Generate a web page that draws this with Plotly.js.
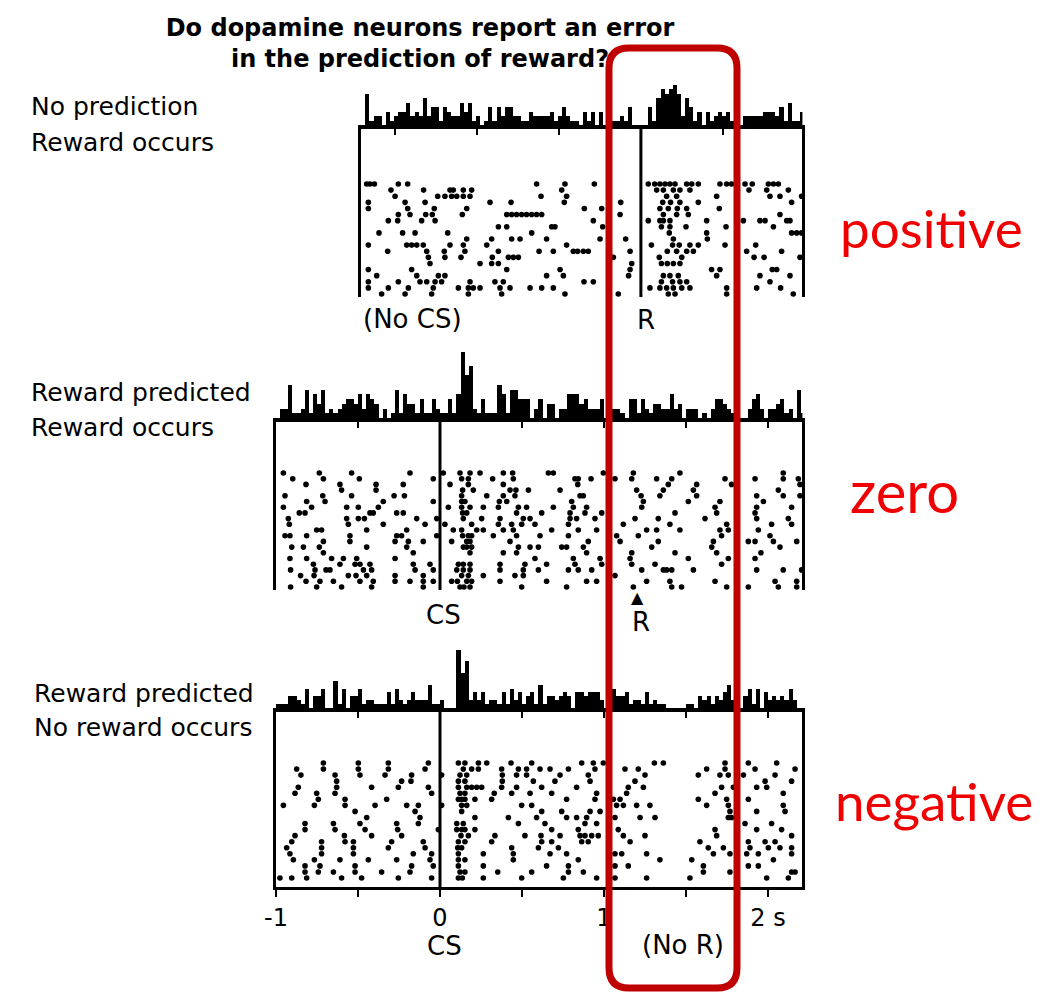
<!DOCTYPE html>
<html><head><meta charset="utf-8">
<script src="https://cdn.plot.ly/plotly-3.0.1.min.js"></script>
<style>html,body{margin:0;padding:0;background:#fff;}#chart{width:1055px;height:993px;}</style>
</head><body><div id="chart"></div>
<script>
// ---------------- DATA (seconds relative to CS; one array per trial row) ----------------
const CS_TIME = 0;
const REWARD_TIME_P1 = 1.225;   // reward line, panel 1
const REWARD_TIME_P2 = 1.205;   // reward arrow, panel 2
const REWARD_TIME_P3 = 1.22;    // omitted reward, panel 3
const P1_START = -0.48, P23_START = -1.0, END_T = 2.21;
const BIN_SIZE = 0.025;

const rasterNoPrediction = [
 [-0.447,-0.427,-0.40,-0.254,-0.197,0.589,0.762,0.941,1.270,1.309,1.341,1.372,1.402,1.433,1.504,1.535,1.575,1.707,1.748,1.778,1.860,1.904,2.002,2.033,2.063],
 [-0.299,-0.10,0.061,0.081,0.142,0.193,0.742,1.321,1.362,1.423,1.463,1.524,1.884,1.992,2.124],
 [-0.274,-0.014,0.030,0.071,0.102,0.142,0.183,0.616,0.772,1.382,1.443,1.687,2.012,2.073,2.205],
 [-0.437,-0.213,-0.091,0.305,0.433,0.758,1.102,1.358,1.406,1.463,1.575,2.144],
 [-0.437,-0.197,-0.035,0.163,0.880,0.986,1.341,1.392,1.447,1.504,1.703],
 [-0.254,-0.183,-0.087,-0.047,0.136,0.407,0.437,0.467,0.498,0.528,0.559,0.589,0.620,1.098,1.362,1.443,1.514,2.073],
 [-0.315,-0.258,-0.112,-0.030,0.935,1.270,1.341,1.362,1.402,1.626,1.850,1.951,1.982,2.114,2.134],
 [0.356,0.407,0.681,0.701,0.992,1.350,1.402,1.500,1.744,2.033],
 [-0.372,-0.228,-0.152,0.047,0.559,1.398,1.626,2.144,2.175,2.205],
 [0.163,0.315,0.437,0.488,0.650,0.976,1.132,1.423,1.630],
 [-0.437,-0.203,-0.173,-0.142,-0.102,0.061,0.142,0.285,0.772,1.289,1.418,1.459,1.524,1.575,1.738,1.925],
 [-0.319,-0.081,0.026,0.152,0.356,0.604,0.691,0.813,0.839,0.874,0.904,1.159,1.386,1.443,1.504,1.545,1.870,2.083],
 [-0.071,0.030,0.128,0.319,0.417,0.447,0.478,1.057,1.337,1.474,1.915,1.976,2.195],
 [-0.061,0.244,0.315,0.356,1.169,1.350,1.386,1.423,1.463],
 [-0.437,-0.173,0.407,0.732,1.159,1.656,1.707,2.026,2.053],
 [-0.386,-0.142,-0.010,0.030,0.650,0.752,1.150,1.362,1.402,1.453,1.687,1.951,2.134],
 [-0.437,-0.254,-0.122,-0.081,-0.030,0.010,0.183,0.335,0.386,0.878,0.935,1.350,1.418,1.463,1.504,2.012],
 [-0.437,-0.315,-0.193,-0.041,0.112,0.173,0.203,0.244,0.366,0.427,0.549,0.620,0.691,1.280,1.341,1.382,1.423,1.474,1.524,1.748,1.931,2.077],
 [-0.356,-0.213,-0.051,0.173,0.376,0.762,1.087,1.392,1.433,1.748,2.154]
];

const rasterRewardPredicted = [
 [-0.955,-0.736,-0.539,-0.183,0.020,0.122,0.183,0.244,0.386,0.443,0.661,0.691,0.996,1.179,1.463,2.093],
 [-0.898,-0.711,-0.492,-0.041,0.132,0.173,0.321,0.447,0.823,0.843,0.921,1.067,1.169,1.321,1.413,1.738,1.921,2.093,2.185],
 [-0.817,-0.610,-0.390,-0.224,0.061,0.173,0.386,0.840,1.392,1.565,1.778,2.195],
 [-0.600,-0.390,0.138,0.203,0.427,0.463,0.539,0.732,1.199,1.362,1.545,2.063],
 [-0.945,-0.715,-0.539,-0.280,-0.217,0.132,0.285,0.386,0.457,0.854,0.874,1.226,1.341,1.565,1.931,2.093,2.195],
 [-0.813,-0.701,-0.346,-0.041,0.132,0.152,0.362,0.407,0.803,1.240,1.514,1.707,1.972],
 [-0.955,-0.783,-0.569,-0.498,-0.376,0.051,0.132,0.183,0.264,0.356,0.478,0.528,0.691,0.813,0.894,1.230,1.677,1.931,2.144],
 [-0.858,-0.823,-0.427,-0.407,-0.264,-0.224,0.138,0.163,0.467,0.620,0.793,0.884,0.986,1.433,1.687,1.921],
 [-0.925,-0.569,-0.498,-0.461,-0.142,-0.020,0.142,0.254,0.366,0.508,0.549,0.793,0.833,0.945,1.189,1.331,1.616,1.931,2.124],
 [-0.919,-0.559,-0.346,-0.091,0.030,0.193,0.356,0.437,0.498,0.579,0.783,1.118,1.402,1.748,2.022,2.144],
 [-0.752,-0.722,-0.447,-0.203,0.081,0.132,0.224,0.264,0.386,0.447,0.681,0.843,0.955,1.260,1.321,1.463,1.707,1.758,1.941],
 [-0.945,-0.915,-0.813,-0.549,-0.264,-0.234,-0.020,0.138,0.173,0.193,0.325,0.467,0.610,0.783,1.077,1.209,1.717,2.012],
 [-0.711,-0.549,-0.274,-0.193,-0.102,0.071,0.163,0.183,0.427,0.904,1.098,1.331,1.667,1.880,1.921,2.033,2.175],
 [-0.904,-0.833,-0.736,-0.447,-0.203,0.142,0.163,0.193,0.478,0.549,0.600,0.742,0.772,0.874,1.291,1.657,2.073],
 [-0.711,-0.163,0.183,0.386,0.467,0.894,1.169,1.433,1.687,1.957],
 [-0.915,-0.813,-0.661,-0.589,-0.508,-0.274,0.579,0.813,0.976,1.159,1.514,1.758,1.921,2.226],
 [-0.772,-0.610,-0.518,-0.488,-0.427,-0.163,-0.061,0.112,0.142,0.183,0.366,0.518,0.650,0.823,0.986,1.169,1.311,1.717],
 [-0.911,-0.762,-0.695,-0.671,-0.467,-0.417,-0.152,-0.041,0.102,0.142,0.183,0.366,0.508,0.600,0.783,0.843,0.925,1.230,1.362,1.382,1.413,1.545,1.931,2.093,2.205],
 [-0.850,-0.768,-0.559,-0.512,-0.447,-0.274,-0.102,0.132,0.173,0.264,0.457,0.508,1.067],
 [-0.817,-0.732,-0.650,-0.488,-0.407,-0.274,-0.183,-0.102,-0.041,0.071,0.106,0.163,0.193,0.366,0.650,0.894,0.955,1.260,1.402,1.677,2.043,2.175],
 [-0.911,-0.752,-0.600,-0.417,-0.102,0.122,0.146,0.183,0.498,0.772,1.179,1.413,1.473,1.748,1.880,2.063,2.175]
];

const rasterRewardOmitted = [
 [-0.711,-0.498,-0.315,-0.071,0.112,0.152,0.234,0.285,0.433,0.559,0.864,0.935,0.996,1.307,1.362,1.738,1.880,2.053],
 [-0.874,-0.711,-0.498,-0.315,-0.091,0.142,0.193,0.234,0.376,0.478,0.528,0.610,0.671,0.783,0.945,1.128,1.209,1.626,1.738,1.921,2.165],
 [-0.848,-0.640,-0.488,-0.335,-0.173,0.010,0.122,0.163,0.380,0.467,0.528,0.732,0.904,1.250,1.575,1.707,1.758,1.850,2.043],
 [-0.630,-0.234,-0.177,0.112,0.152,0.380,0.569,0.701,0.915,1.189,1.982,2.144],
 [-0.864,-0.630,-0.417,-0.254,-0.071,0.112,0.163,0.193,0.224,0.254,0.376,0.467,0.620,0.833,1.148,1.240,1.717,1.789,1.931,1.992],
 [-0.884,-0.752,-0.640,-0.051,0.122,0.152,0.331,0.437,0.549,0.681,0.955,1.138,1.677,2.093],
 [-0.742,-0.579,-0.325,0.112,0.132,0.152,0.213,0.315,0.772,0.945,1.057,1.098,1.575,1.748,1.880],
 [-0.955,-0.766,-0.579,-0.396,-0.203,-0.132,0.010,0.132,0.163,0.498,0.559,1.077,1.118,1.199,1.280,1.626,1.758,2.093],
 [-0.518,-0.152,0.132,0.620,0.742,0.915,0.976,1.768,1.931,2.104],
 [-0.447,-0.122,0.213,0.417,0.589,0.772,0.833,0.894,1.067,1.220,1.311,1.758,1.778],
 [-0.823,-0.650,-0.488,-0.264,-0.132,0.102,0.142,0.478,0.640,0.884,0.955,1.860,2.022],
 [-0.823,-0.640,-0.457,-0.258,-0.010,0.102,0.132,0.152,0.213,0.681,0.843,1.087,1.677,1.931,2.083],
 [-0.884,-0.583,-0.417,-0.234,0.128,0.173,0.335,0.518,0.616,0.732,0.854,0.884,0.925,0.965,1.118,1.250,1.687,2.144],
 [-0.904,-0.722,-0.579,-0.528,-0.295,-0.102,0.112,0.152,0.315,0.620,0.681,0.864,0.904,1.159,1.585,1.880,1.982,2.043],
 [-0.935,-0.722,-0.528,-0.315,-0.091,0.108,0.132,0.437,0.600,0.722,1.636,1.728,1.890,2.002,2.073,2.144],
 [-0.915,-0.722,-0.528,-0.163,-0.051,0.112,0.264,0.447,0.671,0.772,1.067,1.108,1.260,1.667,1.768,1.870,1.941,2.144],
 [-0.894,-0.766,-0.610,-0.437,-0.264,-0.061,0.112,0.152,0.447,0.843,1.341,1.535,2.033],
 [-0.823,-0.732,-0.518,-0.173,-0.041,0.112,0.264,0.650,0.783,1.067,1.148,1.606,1.880,1.941],
 [-0.823,-0.742,-0.650,-0.518,-0.356,-0.183,0.122,0.152,0.352,0.559,0.783,0.874,1.606,1.768,2.144,2.165],
 [-0.976,-0.904,-0.813,-0.600,-0.478,-0.254,-0.051,0.112,0.136,0.264,0.498,0.752,0.955,1.067,1.260,1.524,1.992,2.124]
];

const axisTickVals = [-1, -0.5, 0, 0.5, 1, 1.5, 2];
const axisTickText = ['-1', '', '0', '', '1', '', '2 s'];
const panelLabels = [['No prediction', 'Reward occurs'], ['Reward predicted', 'Reward occurs'], ['Reward predicted', 'No reward occurs']];
const errorLabels = ['positive', 'zero', 'negative'];
const titleText = 'Do dopamine neurons report an error<br>in the prediction of reward?';

// ---------------- GEOMETRY / STYLE ----------------
const W = 1055, H = 993;
const fx = px => px / W;
const fy = py => 1 - py / H;
const PX_PER_S = 164, PX_T0 = 440;
const xDom = (a, b) => [fx(PX_T0 + PX_PER_S * a), fx(PX_T0 + PX_PER_S * b)];
function rowRange(n, domTop, domBot, firstRow, lastRow) {
  const sp = (lastRow - firstRow) / (n - 1);
  return [n + (domBot - lastRow) / sp, 1 - (firstRow - domTop) / sp];
}
const FONT = 'DejaVu Sans';
const BLACK = '#000';

function rasterTrace(rows, xa, ya) {
  const x = [], y = [];
  rows.forEach((r, i) => r.forEach(t => { x.push(t); y.push(i + 1); }));
  return {type: 'scatter', mode: 'markers', x, y, xaxis: xa, yaxis: ya,
    marker: {color: BLACK, size: 5.6, line: {width: 0}}, hoverinfo: 'skip', showlegend: false};
}
function histTrace(rows, xa, ya, start) {
  return {type: 'histogram', x: rows.flat(), xaxis: xa, yaxis: ya,
    xbins: {start: start, end: END_T, size: BIN_SIZE},
    marker: {color: BLACK, line: {width: 0}}, hoverinfo: 'skip', showlegend: false};
}

const data = [
  histTrace(rasterNoPrediction, 'x', 'y', P1_START),
  rasterTrace(rasterNoPrediction, 'x', 'y2'),
  histTrace(rasterRewardPredicted, 'x2', 'y3', P23_START),
  rasterTrace(rasterRewardPredicted, 'x2', 'y4'),
  histTrace(rasterRewardOmitted, 'x3', 'y5', P23_START),
  rasterTrace(rasterRewardOmitted, 'x4', 'y6')
];

const histX = (start, anchor, tv) => ({
  domain: xDom(start, END_T), range: [start, END_T], anchor: anchor,
  showline: true, linewidth: 4, linecolor: BLACK, ticks: 'outside', ticklen: 6, tickwidth: 2,
  tickcolor: BLACK, tickvals: tv, showticklabels: false, showgrid: false, zeroline: false, fixedrange: true
});
const histY = (bot, top, maxCount) => ({domain: [fy(bot), fy(top)], range: [0, maxCount], visible: false, fixedrange: true});
const rasterY = (anchor, bot, top, range) => ({
  domain: [fy(bot), fy(top)], range: range, anchor: anchor, showline: true, mirror: true,
  linewidth: 3, linecolor: BLACK, showticklabels: false, ticks: '', showgrid: false, zeroline: false, fixedrange: true
});

const R1 = REWARD_TIME_P1;
const layout = {
  width: W, height: H, margin: {l: 0, r: 0, t: 0, b: 0, pad: 0},
  paper_bgcolor: '#fff', plot_bgcolor: 'rgba(0,0,0,0)', bargap: 0, showlegend: false,
  title: {text: '<b>' + titleText.split('<br>').join('</b><br><b>') + '</b>', font: {family: FONT, size: 24, color: BLACK},
          x: fx(420), xref: 'paper', xanchor: 'center', y: 1 - 36 / H, yref: 'container', yanchor: 'middle'},
  xaxis: histX(P1_START, 'y', [R1 - 1.5, R1 - 1, R1 - 0.5, R1 + 0.5]),
  yaxis: histY(125, 62, 14),
  yaxis2: rasterY('x', 297, 125, rowRange(rasterNoPrediction.length, 125, 297, 184, 294)),
  xaxis2: histX(P23_START, 'y3', [-0.5, 0.5, 1, 1.5, 2]),
  yaxis3: histY(418, 335, 17.5),
  yaxis4: rasterY('x2', 590, 418, rowRange(rasterRewardPredicted.length, 418, 590, 473, 587)),
  xaxis3: histX(P23_START, 'y5', [-0.5, 0.5, 1, 1.5, 2]),
  yaxis5: histY(708, 630, 20),
  yaxis6: rasterY('x4', 887, 708, rowRange(rasterRewardOmitted.length, 708, 887, 763, 878)),
  xaxis4: {domain: xDom(P23_START, END_T), range: [P23_START, END_T], anchor: 'y6',
    showline: true, linewidth: 3, linecolor: BLACK, ticks: 'outside', ticklen: 7, tickwidth: 2, tickcolor: BLACK,
    tickvals: axisTickVals, ticktext: axisTickText, tickfont: {family: FONT, size: 24, color: BLACK},
    showgrid: false, zeroline: false, fixedrange: true},
  shapes: [
    {type: 'line', xref: 'x', yref: 'y2 domain', x0: R1, x1: R1, y0: 0, y1: 1, line: {color: BLACK, width: 3}},
    {type: 'line', xref: 'x2', yref: 'y4 domain', x0: CS_TIME, x1: CS_TIME, y0: 0, y1: 1, line: {color: BLACK, width: 3}},
    {type: 'line', xref: 'x4', yref: 'y6 domain', x0: CS_TIME, x1: CS_TIME, y0: 0, y1: 1, line: {color: BLACK, width: 3}}
  ],
  annotations: []
};

// rounded highlight box
(function () {
  const L = 609, Rr = 737, T = 48, B = 988, r = 20;
  const p = (x, y) => fx(x) + ',' + fy(y);
  const path = 'M' + p(L + r, T) + ' L' + p(Rr - r, T) + ' Q' + p(Rr, T) + ' ' + p(Rr, T + r) +
    ' L' + p(Rr, B - r) + ' Q' + p(Rr, B) + ' ' + p(Rr - r, B) + ' L' + p(L + r, B) +
    ' Q' + p(L, B) + ' ' + p(L, B - r) + ' L' + p(L, T + r) + ' Q' + p(L, T) + ' ' + p(L + r, T) + ' Z';
  layout.shapes.push({type: 'path', xref: 'paper', yref: 'paper', path: path, line: {color: '#c00000', width: 7}, layer: 'above'});
})();

const ann = (o) => layout.annotations.push(Object.assign({showarrow: false, font: {family: FONT, size: 25, color: BLACK}}, o));
const labelPos = [[29, 107, 142], [29, 393, 427], [32, 693, 727]];
panelLabels.forEach((pair, i) => {
  ann({text: pair[0], xref: 'paper', yref: 'paper', x: fx(labelPos[i][0]), y: fy(labelPos[i][1]), xanchor: 'left', yanchor: 'middle'});
  ann({text: pair[1], xref: 'paper', yref: 'paper', x: fx(labelPos[i][0]), y: fy(labelPos[i][2]), xanchor: 'left', yanchor: 'middle'});
});
const big = {family: FONT, size: 26, color: BLACK};
ann({text: '(No CS)', xref: 'x', yref: 'paper', x: P1_START, y: fy(319), xanchor: 'left', yanchor: 'middle', font: big});
ann({text: 'R', xref: 'x', yref: 'paper', x: R1, xshift: 5, y: fy(320), xanchor: 'center', yanchor: 'middle', font: big});
ann({text: 'CS', xref: 'x2', yref: 'paper', x: CS_TIME, xshift: 3, y: fy(615), xanchor: 'center', yanchor: 'middle', font: big});
ann({text: '▲', xref: 'x2', yref: 'paper', x: REWARD_TIME_P2, y: fy(597), xanchor: 'center', yanchor: 'middle', font: {family: FONT, size: 16, color: BLACK}});
ann({text: 'R', xref: 'x2', yref: 'paper', x: REWARD_TIME_P2, xshift: 3, y: fy(622), xanchor: 'center', yanchor: 'middle', font: big});
ann({text: 'CS', xref: 'x4', yref: 'paper', x: CS_TIME, xshift: 4, y: fy(946), xanchor: 'center', yanchor: 'middle', font: big});
ann({text: '(No R)', xref: 'x4', yref: 'paper', x: REWARD_TIME_P3, y: fy(945), xanchor: 'left', yanchor: 'middle', font: big});
const redPos = [[838, 228, 53], [848, 490, 58], [833, 800, 53]];
errorLabels.forEach((t, i) => ann({text: t, xref: 'paper', yref: 'paper', x: fx(redPos[i][0]), y: fy(redPos[i][1]),
  xanchor: 'left', yanchor: 'middle', font: {family: 'Lato', size: redPos[i][2], color: '#f00000'}}));

Plotly.newPlot('chart', data, layout, {displayModeBar: false, staticPlot: true});
</script></body></html>
